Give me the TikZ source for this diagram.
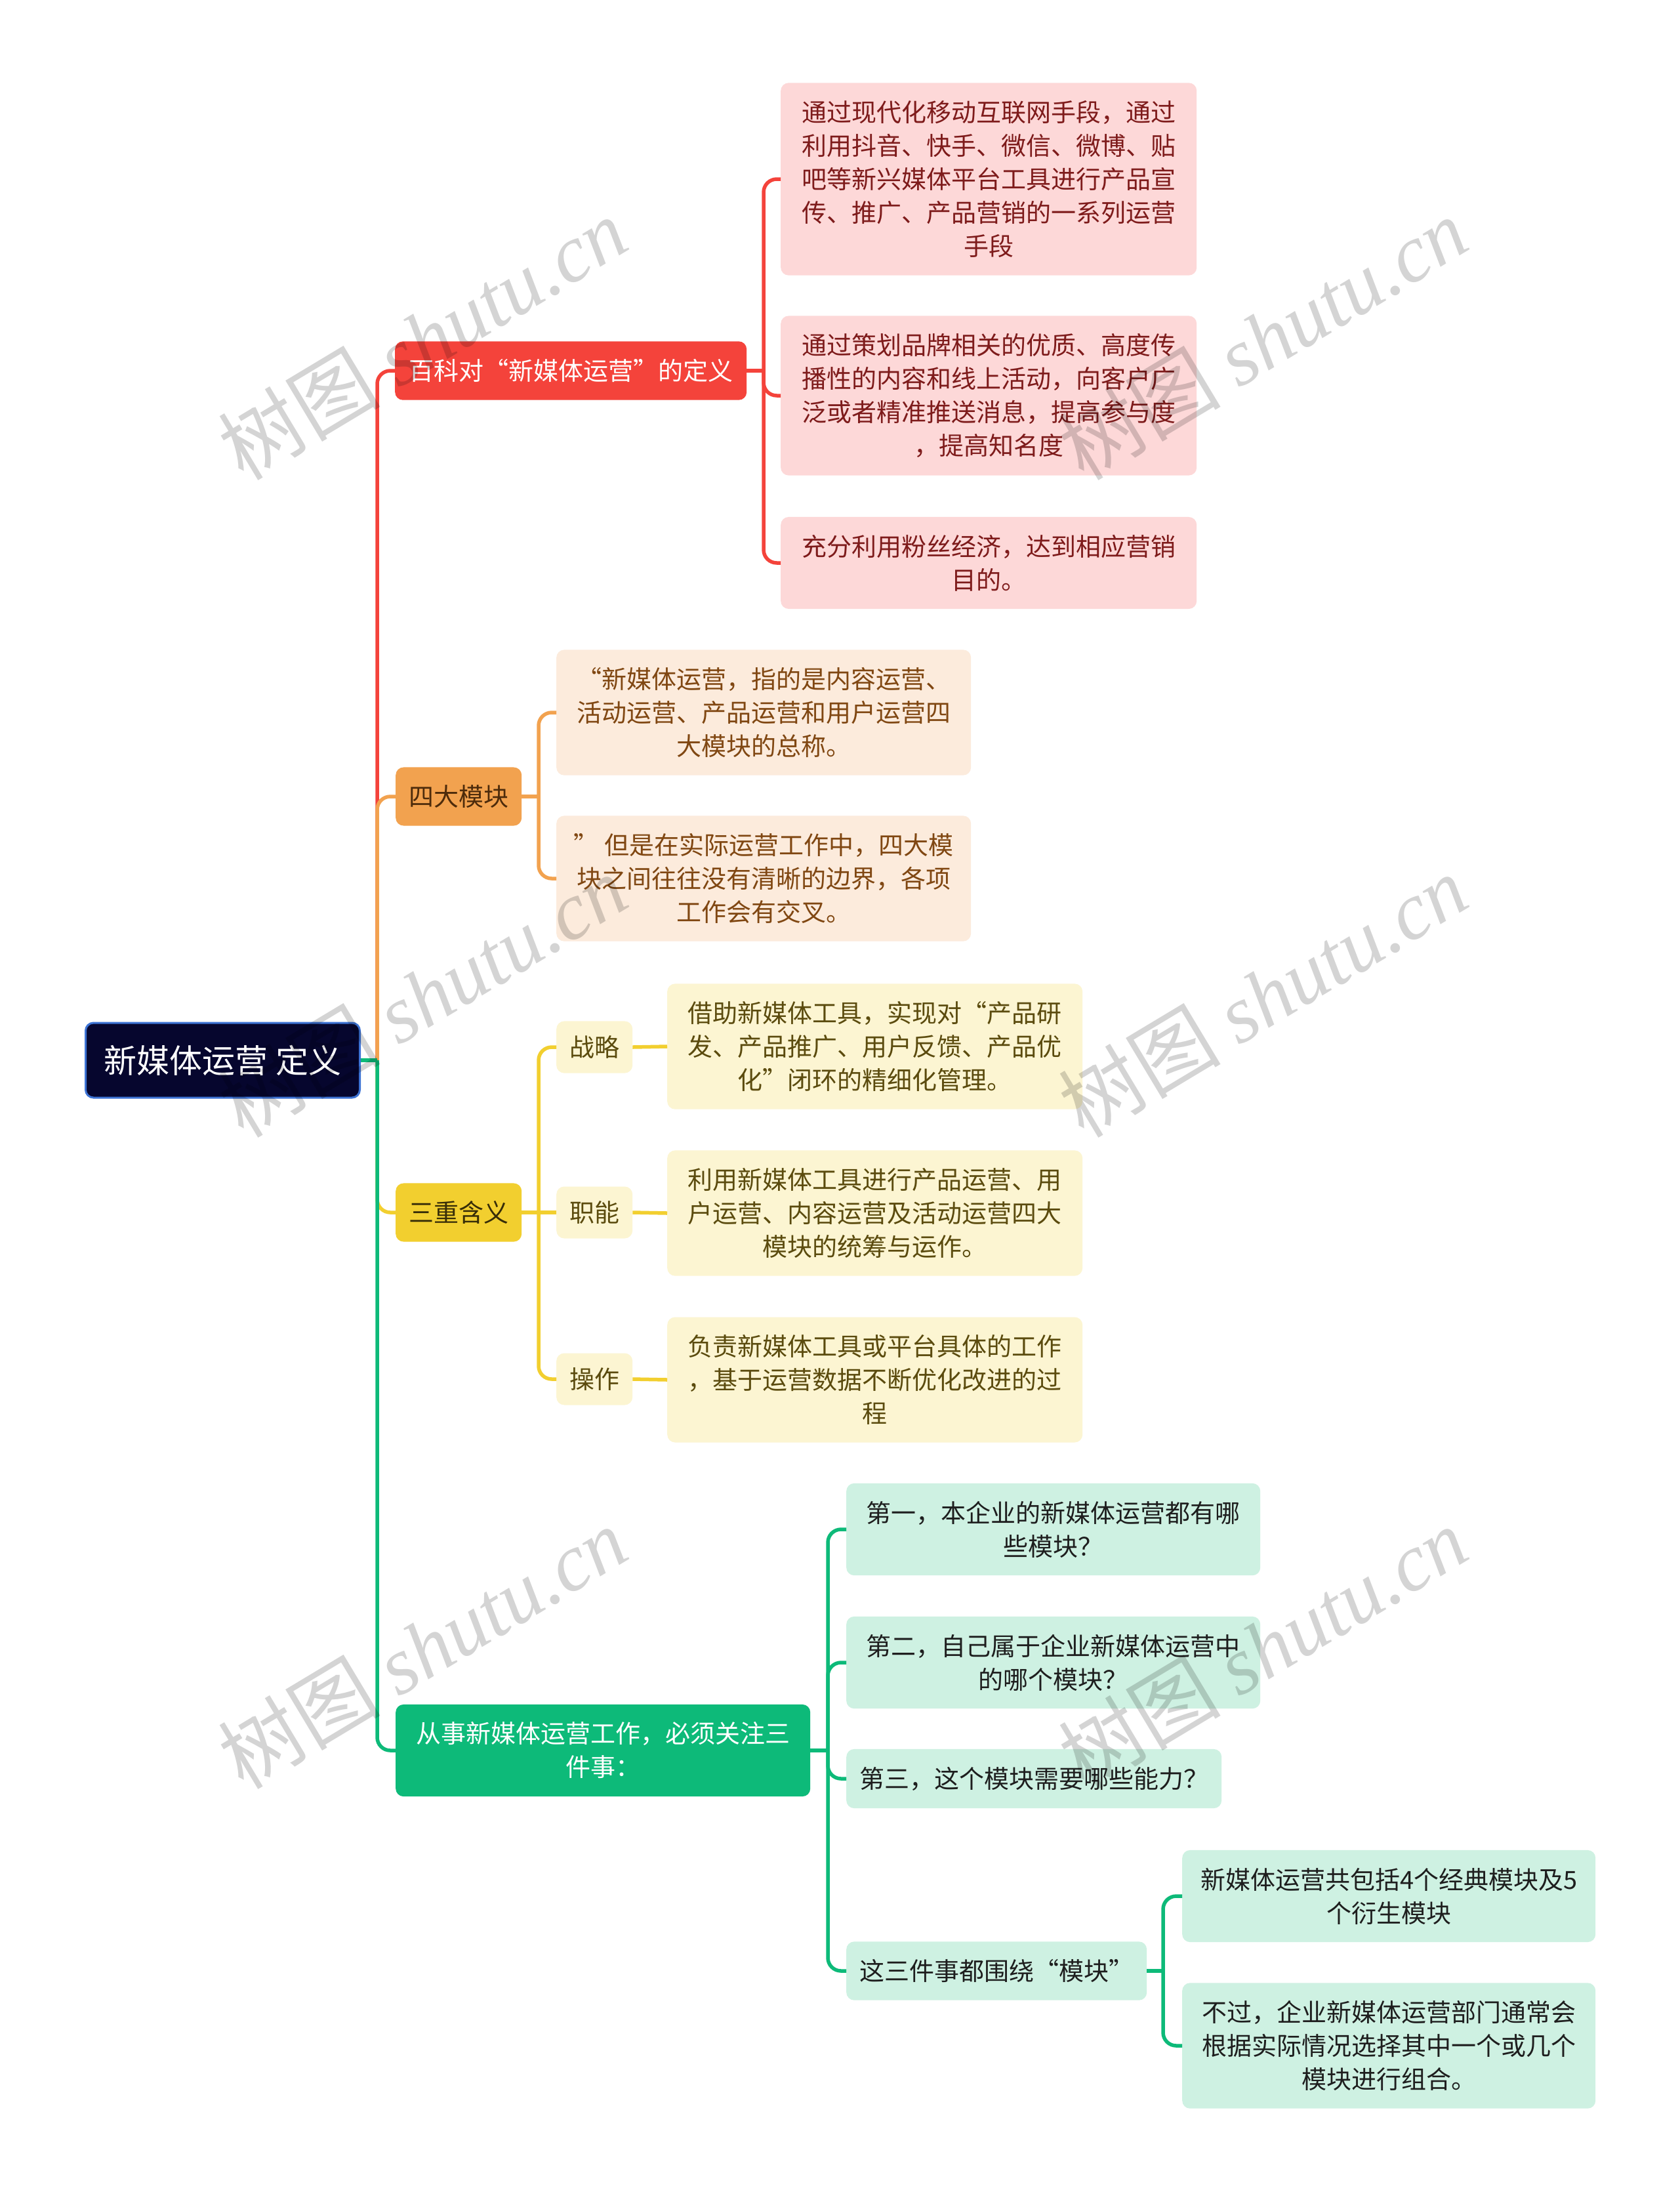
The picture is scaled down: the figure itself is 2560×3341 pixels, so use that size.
\documentclass[tikz,border=0pt]{standalone}
\usepackage{fontspec}
\setmainfont{Noto Sans CJK SC}
\newfontfamily\filigranYazi{Liberation Serif}
\usepackage{xcolor}
\usepackage{tikz}
\definecolor{kokLacivert}{HTML}{06062E}
\definecolor{kokKenar}{HTML}{3D73D4}
\definecolor{kirmizi}{HTML}{F4433B}
\definecolor{acikKirmizi}{HTML}{FDD8D8}
\definecolor{koyuKirmizi}{HTML}{7E1B1B}
\definecolor{turuncu}{HTML}{F2A24F}
\definecolor{acikTuruncu}{HTML}{FCEBDC}
\definecolor{koyuTuruncu}{HTML}{804712}
\definecolor{sari}{HTML}{F2CF2F}
\definecolor{acikSari}{HTML}{FCF5D2}
\definecolor{koyuSari}{HTML}{5B4B0E}
\definecolor{yesil}{HTML}{0DBA79}
\definecolor{acikYesil}{HTML}{CEF1E2}
\definecolor{koyuGri}{HTML}{1E1E1E}

\begin{document}
\begin{tikzpicture}[x=1pt,y=-1pt,
  kutu/.style={rounded corners=12,align=center,anchor=west,inner xsep=20,inner ysep=27,font=\fontsize{38}{51}\selectfont},
  kok/.style={fill=kokLacivert,draw=kokKenar,line width=3,rounded corners=12,anchor=west,text=white,
    minimum width=418,minimum height=114,font=\fontsize{50}{60}\selectfont},
  cizgi/.style={line width=5.5,rounded corners=20},
  filigran/.style={rotate=31,text=black,text opacity=0.17,font=\fontsize{124}{124}\selectfont}]
\useasboundingbox (0,0) rectangle (2560,3341);
\fill[white] (0,0) rectangle (2560,3341);

% kok
\node[kok] (kok) at (129,1616) {新媒体运营 定义};

% ana dallar
\node[kutu,fill=kirmizi,text=white,minimum width=536] (baike) at (602,565) {百科对“新媒体运营”的定义};
\node[kutu,fill=turuncu,text=koyuTuruncu!60!black,minimum width=192] (sida) at (603,1214) {四大模块};
\node[kutu,fill=sari,text=koyuSari!60!black,minimum width=192] (sanchong) at (603,1848) {三重含义};
\node[kutu,fill=yesil,text=white,minimum width=632] (congshi) at (603,2668) {从事新媒体运营工作，必须关注三\\件事：};

% kirmizi yapraklar
\node[kutu,fill=acikKirmizi,text=koyuKirmizi,minimum width=634] (baike1) at (1190,273) {通过现代化移动互联网手段，通过\\利用抖音、快手、微信、微博、贴\\吧等新兴媒体平台工具进行产品宣\\传、推广、产品营销的一系列运营\\手段};
\node[kutu,fill=acikKirmizi,text=koyuKirmizi,minimum width=634] (baike2) at (1190,603) {通过策划品牌相关的优质、高度传\\播性的内容和线上活动，向客户广\\泛或者精准推送消息，提高参与度\\，提高知名度};
\node[kutu,fill=acikKirmizi,text=koyuKirmizi,minimum width=634] (baike3) at (1190,858) {充分利用粉丝经济，达到相应营销\\目的。};

% turuncu yapraklar
\node[kutu,fill=acikTuruncu,text=koyuTuruncu,minimum width=632] (sida1) at (848,1086) {“新媒体运营，指的是内容运营、\\活动运营、产品运营和用户运营四\\大模块的总称。};
\node[kutu,fill=acikTuruncu,text=koyuTuruncu,minimum width=632] (sida2) at (848,1339) {” 但是在实际运营工作中，四大模\\块之间往往没有清晰的边界，各项\\工作会有交叉。};

% sari ara dugumler ve metinler
\node[kutu,fill=acikSari,text=koyuSari,minimum width=115,inner ysep=22] (zhanlue) at (848,1596) {战略};
\node[kutu,fill=acikSari,text=koyuSari,minimum width=115,inner ysep=22] (zhineng) at (848,1848) {职能};
\node[kutu,fill=acikSari,text=koyuSari,minimum width=115,inner ysep=22] (caozuo) at (848,2102) {操作};
\node[kutu,fill=acikSari,text=koyuSari,minimum width=633] (zhanlueMetin) at (1017,1595) {借助新媒体工具，实现对“产品研\\发、产品推广、用户反馈、产品优\\化”闭环的精细化管理。};
\node[kutu,fill=acikSari,text=koyuSari,minimum width=633] (zhinengMetin) at (1017,1849) {利用新媒体工具进行产品运营、用\\户运营、内容运营及活动运营四大\\模块的统筹与运作。};
\node[kutu,fill=acikSari,text=koyuSari,minimum width=633] (caozuoMetin) at (1017,2103) {负责新媒体工具或平台具体的工作\\，基于运营数据不断优化改进的过\\程};

% yesil yapraklar
\node[kutu,fill=acikYesil,text=koyuGri,minimum width=631] (ilk) at (1290,2331) {第一，本企业的新媒体运营都有哪\\些模块？};
\node[kutu,fill=acikYesil,text=koyuGri,minimum width=631] (ikinci) at (1290,2534) {第二，自己属于企业新媒体运营中\\的哪个模块？};
\node[kutu,fill=acikYesil,text=koyuGri,minimum width=571] (ucuncu) at (1290,2711) {第三，这个模块需要哪些能力？};
\node[kutu,fill=acikYesil,text=koyuGri,minimum width=457] (modul) at (1290,3004) {这三件事都围绕“模块”};
\node[kutu,fill=acikYesil,text=koyuGri,minimum width=630] (modul1) at (1802,2890) {新媒体运营共包括4个经典模块及5\\个衍生模块};
\node[kutu,fill=acikYesil,text=koyuGri,minimum width=630] (modul2) at (1802,3118) {不过，企业新媒体运营部门通常会\\根据实际情况选择其中一个或几个\\模块进行组合。};

% govde
\coordinate (govde) at (575,1616);
\draw[cizgi,kirmizi] (govde) |- (baike.west);
\draw[cizgi,turuncu] (govde) |- (sida.west);
\draw[cizgi,sari] (govde) |- (sanchong.west);
\draw[cizgi,yesil] (govde) |- (congshi.west);
\draw[cizgi,yesil] (kok.east) -- (govde);

% kirmizi dal
\coordinate (kb) at (1164,565);
\draw[cizgi,kirmizi] (baike.east) -- (kb);
\draw[cizgi,kirmizi] (baike1.west) -| (kb) |- (baike3.west);
\draw[cizgi,kirmizi] (kb) |- (baike2.west);

% turuncu dal
\coordinate (tb) at (821,1214);
\draw[cizgi,turuncu] (sida.east) -- (tb);
\draw[cizgi,turuncu] (sida1.west) -| (tb) |- (sida2.west);

% sari dal
\coordinate (sb) at (821,1848);
\draw[cizgi,sari] (zhanlue.west) -| (sb) |- (caozuo.west);
\draw[cizgi,sari] (sanchong.east) -- (zhineng.west);
\draw[cizgi,sari] (zhanlue.east) -- (zhanlueMetin.west);
\draw[cizgi,sari] (zhineng.east) -- (zhinengMetin.west);
\draw[cizgi,sari] (caozuo.east) -- (caozuoMetin.west);

% yesil dal
\coordinate (yb) at (1262,2668);
\draw[cizgi,yesil] (congshi.east) -- (yb);
\draw[cizgi,yesil] (ilk.west) -| (yb) |- (modul.west);
\draw[cizgi,yesil] (yb) |- (ikinci.west);
\draw[cizgi,yesil] (yb) |- (ucuncu.west);
\coordinate (ab) at (1773,3004);
\draw[cizgi,yesil] (modul.east) -- (ab);
\draw[cizgi,yesil] (modul1.west) -| (ab) |- (modul2.west);

% filigran
\foreach \fx/\fy [count=\i] in {644/516,1925/516,644/1518,1925/1518,644/2511,1925/2511}
  \node[filigran] (filigran\i) at (\fx,\fy) {树图 {\filigranYazi\itshape shutu.cn}};
\end{tikzpicture}
\end{document}
